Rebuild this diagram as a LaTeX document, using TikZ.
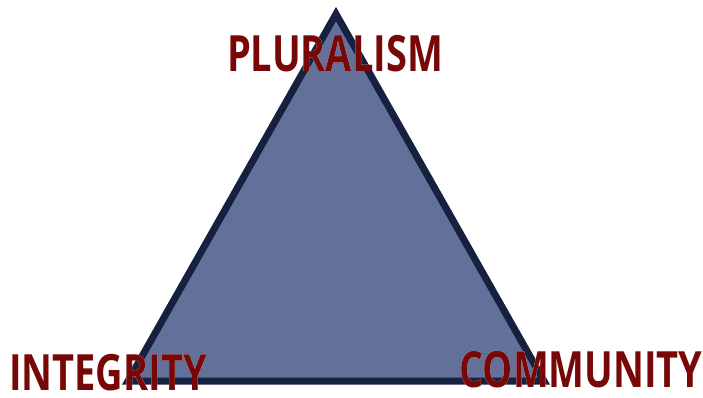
\documentclass[tikz,border=0pt]{standalone}
\usepackage{fontspec}
\setmainfont{Open Sans}[FakeStretch=0.76]
\usepackage[outline]{contour}
\contourlength{2.6pt}
\definecolor{trifill}{HTML}{63719A}
\definecolor{triline}{HTML}{15213F}
\definecolor{labelred}{HTML}{780808}
\begin{document}
\begin{tikzpicture}[x=1pt,y=1pt,
  label/.style={inner sep=0pt,anchor=base,text depth=0pt,text=labelred,font=\bfseries\fontsize{50}{50}\selectfont}]
\useasboundingbox (0,0) rectangle (703,397);
\coordinate (T) at (336,383);
\coordinate (L) at (128,16);
\coordinate (R) at (544,16);
\draw[fill=trifill,draw=triline,line width=7pt,line join=miter] (T) -- (L) -- (R) -- cycle;
\node[label] (plu) at (335,325) {\contour{white}{PLURALISM}};
\node[label] (int) at (108,7) {\contour{white}{INTEGRITY}};
\node[label] (com) at (581,10) {\contour{white}{COMMUNITY}};
\end{tikzpicture}
\end{document}
